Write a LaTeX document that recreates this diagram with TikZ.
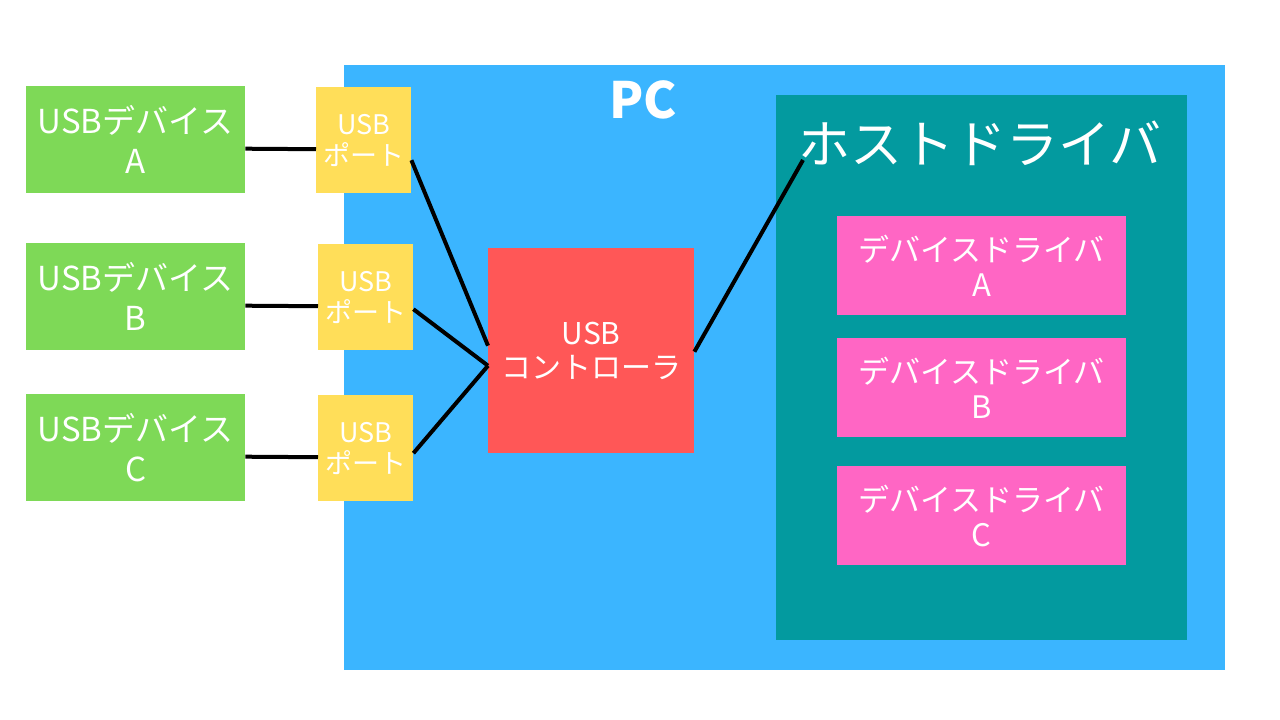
\documentclass[tikz,border=0pt]{standalone}
\usepackage{fontspec}
\setmainfont{Noto Sans CJK JP}
\definecolor{pcblue}{HTML}{3BB5FF}
\definecolor{hostteal}{HTML}{039A9F}
\definecolor{drvpink}{HTML}{FF66C4}
\definecolor{ctlred}{HTML}{FF5757}
\definecolor{portyel}{HTML}{FFDE59}
\definecolor{devgreen}{HTML}{7ED957}
\tikzset{
  box/.style={draw=none, inner sep=0pt, text=white, align=center, font=\fontsize{27}{31}\selectfont},
  wire/.style={line width=4pt, black}
}
\begin{document}
\begin{tikzpicture}[x=1pt, y=-1pt]
    \useasboundingbox (0,0) rectangle (1280,720);

    % PC and host driver
    \fill[pcblue] (344,65) rectangle (1225,670);
    \node[text=white, font=\fontsize{50}{54}\selectfont\bfseries] (pc) at (643,100) {PC};
    \fill[hostteal] (776,95) rectangle (1187,640);
    \node[text=white, font=\fontsize{52}{56}\selectfont] (host) at (980,143) {ホストドライバ};
    \coordinate (hostin) at (803,160);

    % Device drivers
    \foreach \n/\y in {A/216, B/338, C/466}
        \node[box, fill=drvpink, minimum width=289pt, minimum height=99pt, anchor=north west, font=\fontsize{31}{35}\selectfont] (drv\n) at (837,\y) {デバイスドライバ\\\n};

    % USB controller
    \node[box, fill=ctlred, minimum width=206pt, minimum height=205pt, anchor=north west, font=\fontsize{30}{34}\selectfont] (ctl) at (488,248) {USB\\コントローラ};

    % Ports and devices
    \foreach \n/\y/\px in {A/87/316, B/244/318, C/395/318} {
        \node[box, fill=portyel, minimum width=95pt, minimum height=106pt, anchor=north west] (port\n) at (\px,\y) {USB\\ポート};
        \node[box, fill=devgreen, minimum width=219pt, minimum height=107pt, anchor=north west, font=\fontsize{33}{40}\selectfont] (dev\n) at (26,\y-1) {USBデバイス\\\n};
    }

    % Wires
    \foreach \n in {A, B, C}
        \draw[wire] ([yshift=-9pt]dev\n.east) -- ([yshift=-9pt]port\n.west);
    \draw[wire] ([yshift=-20pt]portA.east) -- ([yshift=5pt]ctl.west);
    \draw[wire] ([yshift=-12pt]portB.east) -- ([yshift=-15pt]ctl.west);
    \draw[wire] ([yshift=-5pt]portC.east) -- ([yshift=-15pt]ctl.west);
    \draw[wire] ([yshift=-1pt]ctl.east) -- (hostin);
\end{tikzpicture}
\end{document}
